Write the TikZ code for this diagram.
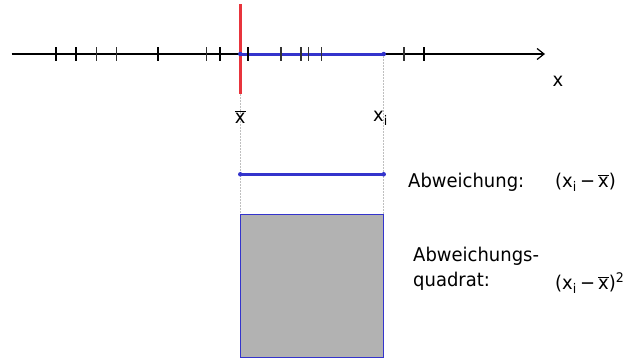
\documentclass[tikz,border=0pt]{standalone}
\usepackage{fontspec}
\setmainfont{DejaVu Sans}[FakeStretch=0.95]
\usetikzlibrary{arrows.meta}
\definecolor{meanred}{RGB}{232,52,60}
\definecolor{devblue}{RGB}{52,52,204}
\definecolor{sqgray}{RGB}{178,178,178}
\newcommand{\xbarsym}{$\overline{\mbox{x}}$}
\begin{document}
\begin{tikzpicture}[x=1bp,y=-1bp,
  axis/.style={line width=1.3bp,-{Straight Barb[length=7bp,width=11bp,line width=1.2bp]}},
  thicktick/.style={line width=2.1bp},
  thintick/.style={line width=1.1bp, black!80},
  meanline/.style={line width=2.6bp, meanred},
  devline/.style={line width=3bp, devblue},
  enddot/.style={circle, fill=devblue, inner sep=0pt, minimum size=4.5bp},
  guide/.style={line width=0.6bp, black!25, dash pattern=on 1.5bp off 1.5bp},
  sqbox/.style={fill=sqgray, draw=devblue, line width=1bp},
  lbl/.style={inner sep=0pt, font=\fontsize{19}{26}\selectfont},
  ]
\useasboundingbox (0,0) rectangle (631,358);
% key points
\coordinate (a0) at (11.7,54);
\coordinate (a1) at (545,54);
\coordinate (mtop) at (240.3,4);
\coordinate (mbot) at (240.3,94.3);
\coordinate (sqtl) at (240.3,214.3);
\coordinate (sqtr) at (383.7,214.3);
\coordinate (sqbr) at (383.7,357.5);
% axis
\draw[axis] (a0) -- (a1);
% guides
\node[enddot] (xi) at (383.7,54) {};
\draw[guide] (mbot) -- (sqtl);
\draw[guide] (xi) -- (sqtr);
% mean line and deviation on axis
\draw[meanline] (mtop) -- (mbot);
\node[enddot] (m) at (240.3,54) {};
\draw[devline] (m.center) -- (xi.center);
% ticks
\foreach \t in {56,76,158,220,248,424} \draw[thicktick] (\t,47) -- (\t,61);
\foreach \t in {96.7,116.7,206.7,281,301,308.7,321.7,404} \draw[thintick] (\t,47) -- (\t,61);
% deviation segment
\node[enddot] (d0) at (240.3,174.3) {};
\node[enddot] (d1) at (383.7,174.3) {};
\draw[devline] (d0.center) -- (d1.center);
% square
\draw[sqbox] (sqtl) rectangle (sqbr);
% labels
\node[lbl, anchor=base] (xbarlbl) at (240.3,123) {\xbarsym};
\node[lbl, anchor=base east] (xilbl) at (388,121) {x\textsubscript{i}};
\node[lbl, anchor=base] (xaxis) at (558,86) {x};
\node[lbl, anchor=base west] (abw) at (408,187) {Abweichung:};
\node[lbl, anchor=base west] (f1) at (555,187) {(x\textsubscript{i}\,−\,\xbarsym)};
\node[lbl, anchor=base west] (abwq1) at (413,261) {Abweichungs-};
\node[lbl, anchor=base west] (abwq2) at (413,286) {quadrat:};
\node[lbl, anchor=base west] (f2) at (555,289) {(x\textsubscript{i}\,−\,\xbarsym)\textsuperscript{2}};
\end{tikzpicture}
\end{document}
